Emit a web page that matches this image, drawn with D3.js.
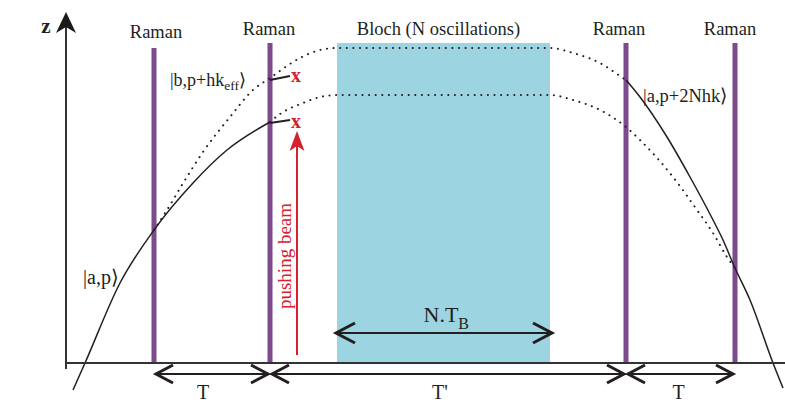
<!DOCTYPE html>
<html>
<head>
<meta charset="utf-8">
<script src="https://cdn.jsdelivr.net/npm/d3@7"></script>
<style>
  html, body { margin: 0; padding: 0; background: #fff; }
  svg { display: block; }
  text { font-family: "Liberation Serif", "Times New Roman", serif; fill: #231f20; }
</style>
</head>
<body>
<svg id="main-svg"></svg>
<script>
// --- data (time t, height z) ---
const ramanTimes = [89, 205, 561, 670];
const ramanTops = [315, 320, 320, 320];
const ramanLabels = ["Raman", "Raman", "Raman", "Raman"];
const bloch = { start: 272, end: 485, top: 320 };

// |a,p> before the second pulse
const pathAP = [[8, -27], [20, 0], [55, 80], [89, 133], [128, 180], [162, 213], [205, 241]];
// upper arm |b,p+hk_eff>, dotted, then flat during Bloch
const pathUpper = [[89, 133], [102, 153], [120, 183], [138, 211], [165, 246], [188, 273], [205, 285],
  [235, 305], [255, 313], [272, 315], [485, 315], [508, 310], [535, 300], [555, 287], [561, 283]];
// lower arm, dotted
const pathLower = [[205, 241], [215, 249], [238, 260], [255, 266], [272, 268], [485, 268], [508, 263],
  [535, 253], [561, 236], [575, 223], [608, 186], [632, 153], [648, 130], [662, 106], [670, 95]];
// |a,p+2Nhk> after the third pulse
const pathOut = [[561, 283], [575, 266], [602, 226], [625, 186], [647, 145], [658, 123], [670, 95],
  [685, 63], [708, 0], [718, -25]];
// atoms pushed away at the second pulse
const pushedStubs = [[[205, 283], [225, 287]], [[205, 240], [225, 243]]];
const pushedMarks = [[231, 286], [231, 240]];

const intervals = [[89, 205, "T"], [205, 561, "T'"], [561, 670, "T"]];

const width = 785, height = 402;
const colors = { purple: "#7d4a8b", cyan: "#9dd4e1", ink: "#231f20", red: "#d6202f" };

const svg = d3.select("#main-svg").attr("width", width).attr("height", height);

const x = d3.scaleLinear().domain([0, 720]).range([65, 785]);
const z = d3.scaleLinear().domain([0, 330]).range([363, 33]);

const line = d3.line().x(d => x(d[0])).y(d => z(d[1])).curve(d3.curveMonotoneX);

// chevron arrow head, tip at (px,py), pointing along angle (deg)
function chevron(g, px, py, angle, color, len = 18, half = 9) {
  g.append("path")
    .attr("d", `M${-len},${-half} L0,0 L${-len},${half}`)
    .attr("transform", `translate(${px},${py}) rotate(${angle})`)
    .attr("fill", "none").attr("stroke", color)
    .attr("stroke-width", 3).attr("stroke-linejoin", "miter");
}
function stealth(g, px, py, angle, color, len = 20, half = 9, notch = 6) {
  g.append("path")
    .attr("d", `M0,0 L${-len},${-half} L${-len + notch},0 L${-len},${half} Z`)
    .attr("transform", `translate(${px},${py}) rotate(${angle})`)
    .attr("fill", color);
}

// Bloch zone
svg.append("rect")
  .attr("x", x(bloch.start)).attr("y", z(bloch.top))
  .attr("width", x(bloch.end) - x(bloch.start))
  .attr("height", z(0) - z(bloch.top))
  .attr("fill", colors.cyan);

svg.append("text").attr("x", x((bloch.start + bloch.end) / 2) - 5).attr("y", 35)
  .attr("text-anchor", "middle").attr("font-size", 18.5)
  .text("Bloch (N oscillations)");

// Raman pulses
svg.selectAll(".raman").data(ramanTimes).enter().append("line")
  .attr("class", "raman")
  .attr("x1", d => x(d)).attr("x2", d => x(d))
  .attr("y1", (d, i) => z(ramanTops[i])).attr("y2", z(0))
  .attr("stroke", colors.purple).attr("stroke-width", 5);

svg.selectAll(".raman-label").data(ramanTimes).enter().append("text")
  .attr("class", "raman-label")
  .attr("x", (d, i) => x(d) + [2, -1, -7, -5][i]).attr("y", (d, i) => i === 0 ? 38 : 35)
  .attr("text-anchor", "middle").attr("font-size", 18.5)
  .text((d, i) => ramanLabels[i]);

// trajectories
const dotted = { stroke: colors.ink, "stroke-width": 2, "stroke-dasharray": "0.1 6.5", "stroke-linecap": "round", fill: "none" };
function applyAttrs(sel, attrs) { Object.entries(attrs).forEach(([k, v]) => sel.attr(k, v)); return sel; }

applyAttrs(svg.append("path").attr("d", line(pathUpper)), dotted);
applyAttrs(svg.append("path").attr("d", line(pathLower)), dotted);

[pathAP, pathOut].forEach(p => {
  svg.append("path").attr("d", line(p))
    .attr("fill", "none").attr("stroke", colors.ink).attr("stroke-width", 1.5);
});

pushedStubs.forEach(p => {
  svg.append("path").attr("d", d3.line().x(d => x(d[0])).y(d => z(d[1]))(p))
    .attr("fill", "none").attr("stroke", colors.ink).attr("stroke-width", 1.8);
});

svg.selectAll(".xmark").data(pushedMarks).enter().append("text")
  .attr("x", d => x(d[0])).attr("y", d => z(d[1]) + 5)
  .attr("text-anchor", "middle").attr("font-size", 20).attr("font-weight", "bold")
  .style("fill", colors.red).text("x");

// pushing beam
const beamT = 232;
svg.append("line")
  .attr("x1", x(beamT)).attr("x2", x(beamT))
  .attr("y1", z(8)).attr("y2", z(220))
  .attr("stroke", colors.red).attr("stroke-width", 2);
stealth(svg, x(beamT), z(232), -90, colors.red, 20, 7.5, 5);
svg.append("text")
  .attr("transform", `translate(${x(beamT) - 6},${z(107)}) rotate(-90)`)
  .attr("text-anchor", "middle").attr("font-size", 19)
  .style("fill", colors.red).text("pushing beam");

// state labels
const kb = svg.append("text").attr("x", 170).attr("y", 86).attr("font-size", 18);
kb.append("tspan").text("|b,p+hk");
kb.append("tspan").attr("font-size", 13.5).attr("dy", 4).text("eff");
kb.append("tspan").attr("dy", -4).text("\u27E9");

svg.append("text").attr("x", 643).attr("y", 102).attr("font-size", 18.5).text("|a,p+2Nhk\u27E9");
svg.append("text").attr("x", 83).attr("y", 284).attr("font-size", 20).text("|a,p\u27E9");

// axes
svg.append("line").attr("x1", x(0)).attr("x2", width)
  .attr("y1", z(0)).attr("y2", z(0))
  .attr("stroke", "#333").attr("stroke-width", 2);
svg.append("line").attr("x1", x(1)).attr("x2", x(1))
  .attr("y1", z(-6)).attr("y2", z(340))
  .attr("stroke", "#333").attr("stroke-width", 2);
stealth(svg, x(1), z(351), -90, "#1a1a1a", 21, 10, 6);
svg.append("text").attr("x", 46).attr("y", 33)
  .attr("text-anchor", "middle").attr("font-size", 21).attr("font-weight", "bold").text("z");

// N.T_B span
const nty = z(30);
svg.append("line").attr("x1", x(bloch.start) + 1).attr("x2", x(bloch.end) + 1)
  .attr("y1", nty).attr("y2", nty).attr("stroke", colors.ink).attr("stroke-width", 2);
chevron(svg, x(bloch.start) - 1, nty, 180, colors.ink, 19, 10);
chevron(svg, x(bloch.end) + 2, nty, 0, colors.ink, 19, 10);
const nt = svg.append("text").attr("x", x((bloch.start + bloch.end) / 2) - 20).attr("y", 322).attr("font-size", 22);
nt.append("tspan").text("N.T");
nt.append("tspan").attr("font-size", 16).attr("dy", 7).text("B");

// time intervals
const labelShift = [-9, -8, -2];
intervals.forEach(([a, b, lab], i) => {
  const y = z(-11);
  const x1 = x(a) + 2, x2 = x(b) - 2;
  svg.append("line").attr("x1", x1 + 2).attr("x2", x2 - 2).attr("y1", y).attr("y2", y)
    .attr("stroke", colors.ink).attr("stroke-width", 2);
  chevron(svg, x1, y, 180, colors.ink, 17, 9);
  chevron(svg, x2, y, 0, colors.ink, 17, 9);
  svg.append("text").attr("x", (x(a) + x(b)) / 2 + labelShift[i]).attr("y", 399)
    .attr("text-anchor", "middle").attr("font-size", 20).text(lab);
});
</script>
</body>
</html>
